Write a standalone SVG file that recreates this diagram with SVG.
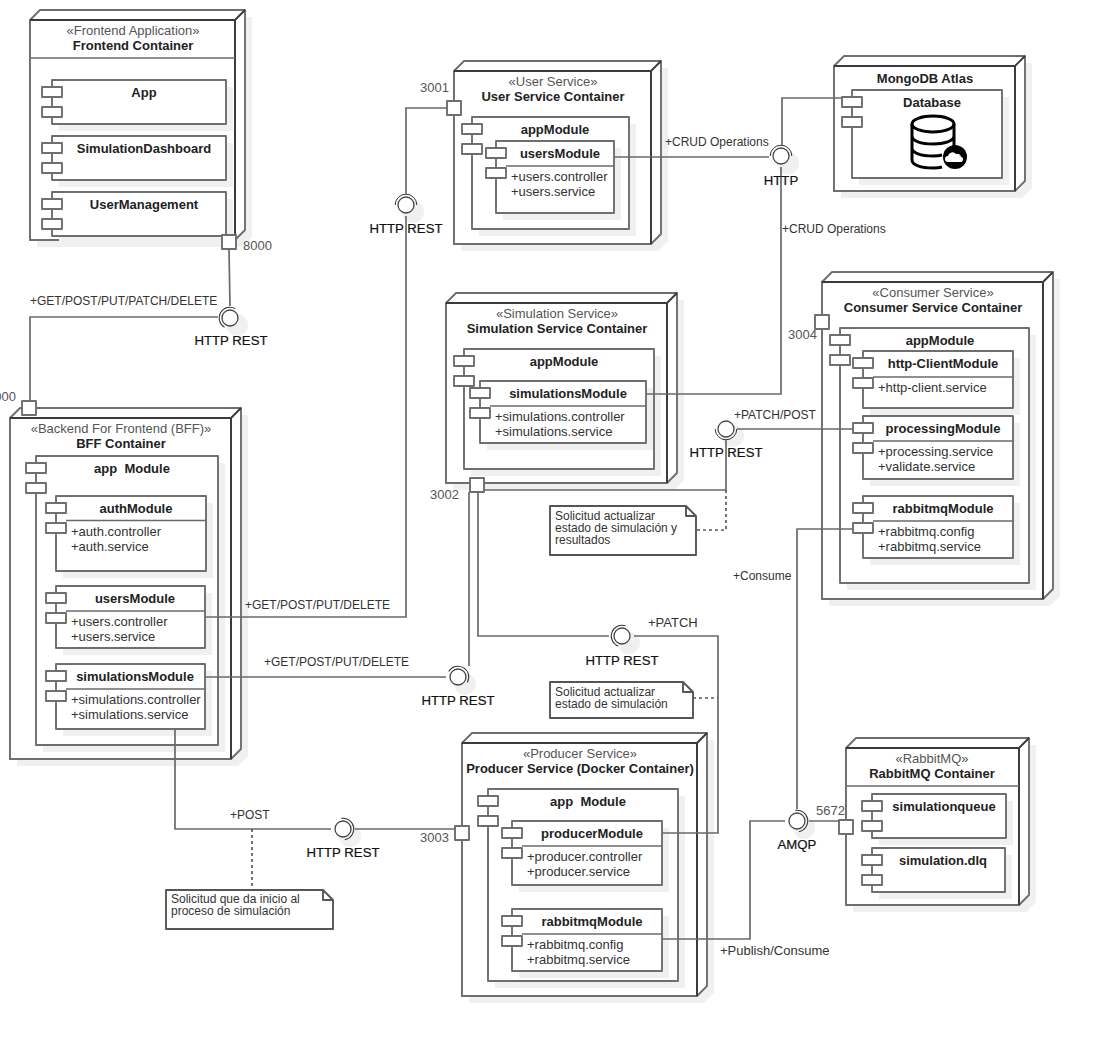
<svg xmlns="http://www.w3.org/2000/svg" width="1094" height="1037" viewBox="0 0 1094 1037">
<style>
text{font-family:"Liberation Sans",Arial,sans-serif;font-size:13px;fill:#1a1a1a;white-space:pre}
.b{font-weight:bold;text-anchor:middle;fill:#222}
.m{text-anchor:middle}
.st{text-anchor:middle;fill:#555}
.l{fill:#333}
.s12{font-size:12px}
.p{fill:#555}
.i{font-size:13.200px;text-anchor:middle;fill:#111;stroke:#111;stroke-width:.2}
.nt{font-size:12px;fill:#333}
.sh{fill:#f0f0f0;stroke:none}
.n{fill:#fff;stroke:#6e6e6e;stroke-width:1.900;stroke-linejoin:round}
.d{fill:none;stroke:#3a3a3a;stroke-width:1.900}
.c{fill:none;stroke:#6a6a6a;stroke-width:1.700}
.dash{fill:none;stroke:#5a5a5a;stroke-width:1.700;stroke-dasharray:3 3}
.thin{fill:none;stroke:#333;stroke-width:1}
.db{fill:none;stroke:#000;stroke-width:3}
</style>
<defs>
<g id="ball"><circle class="sh" cx="7" cy="7" r="11"/><circle class="n" r="8" style="stroke:#444;stroke-width:1.300"/></g>
<path id="sock" class="thin" d="M0,-10.800A10.800,10.800 0 0 0 0,10.800"/>
<g id="sm"><rect class="n" width="20" height="10"/><rect class="n" y="20" width="20" height="10"/></g>
</defs>

<g id="frontend">
<path class="sh" d="M37,27L47,17H252V237L242,247H37Z"/>
<path class="n" d="M30,20L40,10H245V230L235,240H30Z"/>
<path class="n" d="M30,20H235V240H30Z"/><path class="d" d="M30,20H235V240M235,20L245,10"/>
<path class="c" d="M30,58H235"/>
<text class="st" x="133" y="35">«Frontend Application»</text><text class="b" x="133" y="50">Frontend Container</text>
<g id="fe-app"><rect class="sh" x="59" y="87" width="174" height="44"/><rect class="n" x="52" y="80" width="174" height="44"/><use href="#sm" x="42" y="87"/><text class="b" x="144" y="97">App</text></g>
<g id="fe-dash"><rect class="sh" x="59" y="143" width="174" height="44"/><rect class="n" x="52" y="136" width="174" height="44"/><use href="#sm" x="42" y="143"/><text class="b" x="144" y="153">SimulationDashboard</text></g>
<g id="fe-user"><rect class="sh" x="59" y="199" width="174" height="44"/><rect class="n" x="52" y="192" width="174" height="44"/><use href="#sm" x="42" y="199"/><text class="b" x="144" y="209">UserManagement</text></g>
<rect class="n" x="222" y="235" width="14" height="14"/><text class="p" x="243" y="250">8000</text>
</g>

<g id="bff">
<path class="sh" d="M17,425L27,415H248V756L238,766H17Z"/>
<path class="n" d="M10,418L20,408H241V749L231,759H10Z"/>
<path class="n" d="M10,418H231V759H10Z"/><path class="d" d="M10,418H231V759M231,418L241,408"/>
<text class="st" x="121" y="433">«Backend For Frontend (BFF)»</text><text class="b" x="121" y="448">BFF Container</text>
<rect class="sh" x="43" y="463" width="182" height="289"/><rect class="n" x="36" y="456" width="182" height="289"/><use href="#sm" x="26" y="463"/>
<text class="b" x="132" y="473">app  Module</text>
<g id="bff-auth"><rect class="sh" x="63" y="503" width="150" height="75"/><rect class="n" x="56" y="496" width="150" height="75"/><path class="c" d="M66,520.500H206"/><use href="#sm" x="46" y="503"/><text class="b" x="136" y="513">authModule</text><text class="l" x="71" y="536">+auth.controller</text><text class="l" x="71" y="551">+auth.service</text></g>
<g id="bff-users"><rect class="sh" x="63" y="593" width="149" height="62"/><rect class="n" x="56" y="586" width="149" height="62"/><path class="c" d="M66,611H205"/><use href="#sm" x="46" y="593"/><text class="b" x="135" y="603">usersModule</text><text class="l" x="71" y="626">+users.controller</text><text class="l" x="71" y="641">+users.service</text></g>
<g id="bff-sim"><rect class="sh" x="63" y="671" width="149" height="65"/><rect class="n" x="56" y="664" width="149" height="65"/><path class="c" d="M66,689H205"/><use href="#sm" x="46" y="671"/><text class="b" x="135" y="681">simulationsModule</text><text class="l" x="71" y="704">+simulations.controller</text><text class="l" x="71" y="719">+simulations.service</text></g>
<rect class="n" x="22" y="401" width="14" height="14"/><text class="p" x="16" y="401" text-anchor="end">8000</text>
</g>

<g id="user-service">
<path class="sh" d="M461,78L471,68H668V241L658,251H461Z"/>
<path class="n" d="M454,71L464,61H661V234L651,244H454Z"/>
<path class="n" d="M454,71H651V244H454Z"/><path class="d" d="M454,71H651V244M651,71L661,61"/>
<text class="st" x="553" y="86">«User Service»</text><text class="b" x="553" y="101">User Service Container</text>
<rect class="sh" x="479" y="124" width="157" height="112"/><rect class="n" x="472" y="117" width="157" height="112"/><use href="#sm" x="462" y="124"/>
<text class="b" x="555" y="134">appModule</text>
<rect class="sh" x="503" y="148" width="118" height="72"/><rect class="n" x="496" y="141" width="118" height="72"/><path class="c" d="M506,166H614"/><use href="#sm" x="486" y="148"/>
<text class="b" x="560" y="158">usersModule</text><text class="l" x="511" y="181">+users.controller</text><text class="l" x="511" y="196">+users.service</text>
<rect class="n" x="447" y="101" width="14" height="14"/><text class="p" x="420" y="92">3001</text>
</g>

<g id="mongodb">
<path class="sh" d="M841,73L851,63H1032V188L1022,198H841Z"/>
<path class="n" d="M834,66L844,56H1025V181L1015,191H834Z"/>
<path class="n" d="M834,66H1015V191H834Z"/><path class="d" d="M834,66H1015V191M1015,66L1025,56"/>
<text class="b" x="925" y="83">MongoDB Atlas</text>
<rect class="sh" x="859" y="97" width="150" height="88"/><rect class="n" x="852" y="90" width="150" height="88"/><use href="#sm" x="842" y="97"/>
<text class="b" x="932" y="107">Database</text>
<ellipse class="db" cx="933" cy="124" rx="21" ry="8"/>
<path class="db" d="M912,124V160C912,165 921,168 933,168C936,168 939,168 942,167M954,124V148M912,136C912,141 921,144 933,144C944,144 954,141 954,136M912,148C912,153 921,156 933,156C936,156 939,156 942,155"/>
<circle cx="955" cy="157" r="12"/>
<path d="M948,162a3,3 0 0 1 0,-6a4.500,4.500 0 0 1 8,-2a3.500,3.500 0 0 1 5,3a2.500,2.500 0 0 1 -1,5Z" fill="#fff"/>
</g>

<g id="consumer">
<path class="sh" d="M829,289L839,279H1060V596L1050,606H829Z"/>
<path class="n" d="M822,282L832,272H1053V589L1043,599H822Z"/>
<path class="n" d="M822,282H1043V599H822Z"/><path class="d" d="M822,282H1043V599M1043,282L1053,272"/>
<text class="st" x="933" y="297">«Consumer Service»</text><text class="b" x="933" y="312">Consumer Service Container</text>
<rect class="sh" x="847" y="335" width="189" height="255"/><rect class="n" x="840" y="328" width="189" height="255"/><use href="#sm" x="830" y="335"/>
<text class="b" x="940" y="345">appModule</text>
<g id="c-http"><rect class="sh" x="870" y="358" width="150" height="57"/><rect class="n" x="863" y="351" width="150" height="57"/><path class="c" d="M873,377H1013"/><use href="#sm" x="853" y="358"/><text class="b" x="943" y="368">http-ClientModule</text><text class="l" x="878" y="392">+http-client.service</text></g>
<g id="c-proc"><rect class="sh" x="870" y="423" width="150" height="63"/><rect class="n" x="863" y="416" width="150" height="63"/><path class="c" d="M873,441H1013"/><use href="#sm" x="853" y="423"/><text class="b" x="943" y="433">processingModule</text><text class="l" x="878" y="456">+processing.service</text><text class="l" x="878" y="471">+validate.service</text></g>
<g id="c-rabbit"><rect class="sh" x="870" y="503" width="150" height="62"/><rect class="n" x="863" y="496" width="150" height="62"/><path class="c" d="M873,521H1013"/><use href="#sm" x="853" y="503"/><text class="b" x="943" y="513">rabbitmqModule</text><text class="l" x="878" y="536">+rabbitmq.config</text><text class="l" x="878" y="551">+rabbitmq.service</text></g>
<rect class="n" x="815" y="315" width="14" height="14"/><text class="p" x="788" y="339">3004</text>
</g>

<g id="simulation">
<path class="sh" d="M453,310L463,300H684V480L674,490H453Z"/>
<path class="n" d="M446,303L456,293H677V473L667,483H446Z"/>
<path class="n" d="M446,303H667V483H446Z"/><path class="d" d="M446,303H667V483M667,303L677,293"/>
<text class="st" x="557" y="318">«Simulation Service»</text><text class="b" x="557" y="333">Simulation Service Container</text>
<rect class="sh" x="471" y="356" width="190" height="120"/><rect class="n" x="464" y="349" width="190" height="120"/><use href="#sm" x="454" y="356"/>
<text class="b" x="564" y="366">appModule</text>
<rect class="sh" x="487" y="388" width="166" height="62"/><rect class="n" x="480" y="381" width="166" height="62"/><path class="c" d="M490,406H646"/><use href="#sm" x="470" y="388"/>
<text class="b" x="568" y="398">simulationsModule</text><text class="l" x="495" y="421">+simulations.controller</text><text class="l" x="495" y="436">+simulations.service</text>
<rect class="n" x="470" y="478" width="14" height="14"/><text class="p" x="430" y="499">3002</text>
</g>

<g id="producer">
<path class="sh" d="M469,750L479,740H714V993L704,1003H469Z"/>
<path class="n" d="M462,743L472,733H707V986L697,996H462Z"/>
<path class="n" d="M462,743H697V996H462Z"/><path class="d" d="M462,743H697V996M697,743L707,733"/>
<text class="st" x="580" y="758">«Producer Service»</text><text class="b" x="580" y="773">Producer Service (Docker Container)</text>
<rect class="sh" x="495" y="796" width="190" height="192"/><rect class="n" x="488" y="789" width="190" height="192"/><use href="#sm" x="478" y="796"/>
<text class="b" x="588" y="806">app  Module</text>
<g id="p-prod"><rect class="sh" x="519" y="828" width="150" height="64"/><rect class="n" x="512" y="821" width="150" height="64"/><path class="c" d="M522,846H662"/><use href="#sm" x="502" y="828"/><text class="b" x="592" y="838">producerModule</text><text class="l" x="527" y="861">+producer.controller</text><text class="l" x="527" y="876">+producer.service</text></g>
<g id="p-rabbit"><rect class="sh" x="519" y="916" width="150" height="62"/><rect class="n" x="512" y="909" width="150" height="62"/><path class="c" d="M522,934H662"/><use href="#sm" x="502" y="916"/><text class="b" x="592" y="926">rabbitmqModule</text><text class="l" x="527" y="949">+rabbitmq.config</text><text class="l" x="527" y="964">+rabbitmq.service</text></g>
<rect class="n" x="455" y="826" width="14" height="14"/><text class="p" x="420" y="842">3003</text>
</g>

<g id="rabbitmq">
<path class="sh" d="M853,755L863,745H1036V902L1026,912H853Z"/>
<path class="n" d="M846,748L856,738H1029V895L1019,905H846Z"/>
<path class="n" d="M846,748H1019V905H846Z"/><path class="d" d="M846,748H1019V905M1019,748L1029,738"/>
<path class="c" d="M846,786H1019"/>
<text class="st" x="932" y="763">«RabbitMQ»</text><text class="b" x="932" y="778">RabbitMQ Container</text>
<g id="q-sim"><rect class="sh" x="879" y="801" width="134" height="44"/><rect class="n" x="872" y="794" width="134" height="44"/><use href="#sm" x="862" y="801"/><text class="b" x="944" y="811">simulationqueue</text></g>
<g id="q-dlq"><rect class="sh" x="879" y="855" width="133" height="44"/><rect class="n" x="872" y="848" width="133" height="44"/><use href="#sm" x="862" y="855"/><text class="b" x="943" y="865">simulation.dlq</text></g>
<rect class="n" x="839" y="820" width="14" height="14"/><text class="p" x="816" y="815">5672</text>
</g>

<g id="note-results"><path class="n" d="M550,506H686L696,516V555H550ZM686,506V516H696" style="stroke:#555"/><text class="nt" x="555" y="520">Solicitud actualizar</text><text class="nt" x="555" y="532">estado de simulación y</text><text class="nt" x="555" y="544">resultados</text></g>
<g id="note-status"><path class="n" d="M550,682H683L693,692V718H550ZM683,682V692H693" style="stroke:#555"/><text class="nt" x="555" y="696">Solicitud actualizar</text><text class="nt" x="555" y="708">estado de simulación</text></g>
<g id="note-start"><path class="n" d="M166,890H323L333,900V929H166ZM323,890V900H333" style="stroke:#555"/><text class="nt" x="171" y="903">Solicitud que da inicio al</text><text class="nt" x="171" y="915">proceso de simulación</text></g>

<g id="connectors">
<use href="#ball" x="230" y="318"/><use href="#sock" transform="translate(230 318) rotate(30)"/>
<use href="#ball" x="406" y="205"/><use href="#sock" transform="translate(406 205) rotate(90)"/>
<use href="#ball" x="458" y="677"/><use href="#sock" transform="translate(458 677) rotate(120)"/>
<use href="#ball" x="781" y="156"/><use href="#sock" transform="translate(781 156) rotate(90)"/>
<use href="#ball" x="726" y="429"/><use href="#sock" transform="translate(726 429) rotate(-90)"/>
<use href="#ball" x="622" y="636"/><use href="#sock" transform="translate(622 636) rotate(20)"/>
<use href="#ball" x="343" y="829"/><use href="#sock" transform="translate(343 829) rotate(170)"/>
<use href="#ball" x="797" y="821"/><use href="#sock" transform="translate(797 821) rotate(170)"/>
<path class="c" d="M229,249L230,306M218,317H30V401"/>
<path class="c" d="M205,617H406V216M406,194V108H447"/>
<path class="c" d="M205,677H446M469,666V492"/>
<path class="c" d="M614,157H769M782,145V98H842M781,167V394H646"/>
<path class="c" d="M737,429H853M726,440V490H484"/>
<path class="dash" d="M726,490V530H697"/>
<path class="c" d="M478,492V636H609M634,636H718V833H662"/>
<path class="dash" d="M693,698H718"/>
<path class="c" d="M175,729V829H331M355,829H455"/>
<path class="dash" d="M252,829V890"/>
<path class="c" d="M662,939H750V821H785M809,821H839M853,529H797V809"/>
</g>

<g id="labels">
<text class="l s12" x="30" y="305">+GET/POST/PUT/PATCH/DELETE</text>
<text class="i" x="231" y="345">HTTP REST</text>
<text class="i" x="406" y="233">HTTP REST</text>
<text class="l s12" x="245" y="609">+GET/POST/PUT/DELETE</text>
<text class="l s12" x="264" y="666">+GET/POST/PUT/DELETE</text>
<text class="i" x="458" y="705">HTTP REST</text>
<text class="l s12" x="665" y="146">+CRUD Operations</text>
<text class="i" x="781" y="185">HTTP</text>
<text class="l s12" x="782" y="233">+CRUD Operations</text>
<text class="l s12" x="734" y="419">+PATCH/POST</text>
<text class="i" x="726" y="457">HTTP REST</text>
<text class="l" x="648" y="627">+PATCH</text>
<text class="i" x="622" y="665">HTTP REST</text>
<text class="l s12" x="230" y="819">+POST</text>
<text class="i" x="343" y="857">HTTP REST</text>
<text class="l s12" x="733" y="580">+Consume</text>
<text class="l" x="720" y="955">+Publish/Consume</text>
<text class="i" x="797" y="849">AMQP</text>
</g>
</svg>
